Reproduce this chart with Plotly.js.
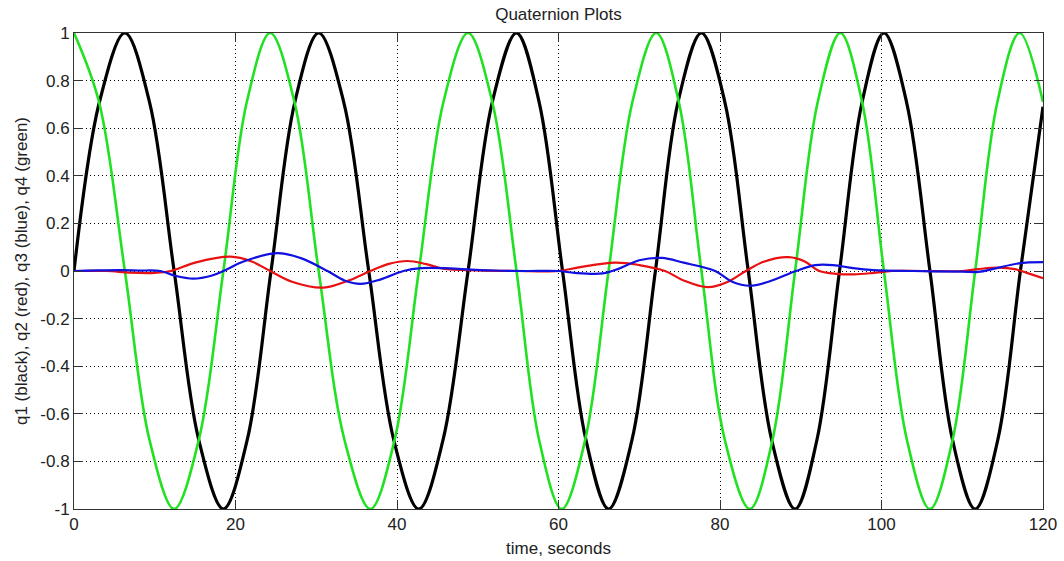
<!DOCTYPE html>
<html>
<head>
<meta charset="utf-8">
<script src="https://cdn.plot.ly/plotly-3.0.1.min.js"></script>
<style>html,body{margin:0;padding:0;background:#fff;}#chart{width:1064px;height:561px;}</style>
</head>
<body>
<div id="chart"></div>
<script>
// q1 (black)
const q1Time = [0, 3.15, 6.3, 9.35, 12.4, 15.45, 18.5, 21.45, 24.4, 27.35, 30.3, 33.4, 36.5, 39.6, 42.7, 45.7, 48.8, 51.8, 54.8, 57.6, 60.5, 63.4, 66.2, 69.1, 72.0, 74.8, 77.7, 80.6, 83.5, 86.4, 89.3, 92.0, 94.8, 97.6, 100.3, 103.1, 106.0, 108.8, 111.6, 114.4, 117.2, 120];
const q1Vals = [0, 0.71, 1, 0.71, 0, -0.71, -1, -0.71, 0, 0.71, 1, 0.71, 0, -0.71, -1, -0.71, 0, 0.71, 1, 0.71, 0, -0.71, -1, -0.71, 0, 0.71, 1, 0.71, 0, -0.71, -1, -0.71, 0, 0.71, 1, 0.71, 0, -0.71, -1, -0.71, 0, 0.69];

// q4 (green)
const q4Time = [0, 3.1, 6.3, 9.35, 12.4, 15.45, 18.5, 21.4, 24.3, 27.3, 30.3, 33.5, 36.7, 39.7, 42.7, 45.75, 48.8, 51.8, 54.8, 57.6, 60.4, 63.3, 66.2, 69.15, 72.1, 74.9, 77.7, 80.6, 83.7, 86.5, 89.3, 92.1, 94.9, 97.6, 100.3, 103.15, 106.0, 108.8, 111.6, 114.35, 117.1, 120];
const q4Vals = [1, 0.71, 0, -0.71, -1, -0.71, 0, 0.71, 1, 0.71, 0, -0.71, -1, -0.71, 0, 0.71, 1, 0.71, 0, -0.71, -1, -0.71, 0, 0.71, 1, 0.71, 0, -0.71, -1, -0.71, 0, 0.71, 1, 0.71, 0, -0.71, -1, -0.71, 0, 0.71, 1, 0.71];

// q2 (red)
const q2Time = [0, 4, 7, 10, 12, 15, 19.4, 22, 24.3, 27, 30.9, 34, 36.7, 39, 41.3, 43.5, 45.7, 50, 55, 60, 62.5, 67, 70, 73.2, 75.5, 78.5, 81, 83.2, 85.5, 88.5, 90.5, 92.3, 94.5, 96.6, 99, 101.3, 105, 110, 112, 114.5, 116.5, 118, 120];
const q2Vals = [0, 0, -0.007, -0.008, 0, 0.035, 0.06, 0.04, 0, -0.045, -0.07, -0.04, 0, 0.03, 0.042, 0.03, 0.01, 0.003, 0, 0, 0.015, 0.035, 0.025, 0, -0.04, -0.068, -0.045, 0, 0.04, 0.058, 0.04, 0, -0.012, -0.014, -0.008, 0, 0, 0, 0.008, 0.014, 0.008, -0.008, -0.03];

// q3 (blue)
const q3Time = [0, 3, 6, 8, 10.7, 12.5, 14.8, 17, 18.5, 21, 25.2, 28, 31.4, 33.5, 35.5, 38, 40.8, 43, 46, 48, 52, 56, 60, 62, 65.5, 67.5, 70, 72.8, 75.5, 79.4, 81.5, 83.7, 86, 89.4, 91.8, 94, 96.5, 99, 104, 110, 112, 114, 117, 120];
const q3Vals = [0, 0.003, 0.004, 0.002, 0, -0.02, -0.032, -0.02, 0, 0.04, 0.075, 0.055, 0, -0.04, -0.054, -0.035, 0, 0.012, 0.012, 0.008, 0.002, 0, 0, -0.008, -0.01, 0.01, 0.045, 0.055, 0.035, 0, -0.045, -0.062, -0.045, 0, 0.025, 0.025, 0.012, 0.004, 0, -0.003, -0.004, 0.01, 0.032, 0.037];

const xTicks = [0, 20, 40, 60, 80, 100, 120];
const yTicks = [-1, -0.8, -0.6, -0.4, -0.2, 0, 0.2, 0.4, 0.6, 0.8, 1];
const yTickText = ['-1', '-0.8', '-0.6', '-0.4', '-0.2', '0', '0.2', '0.4', '0.6', '0.8', '1'];

const FONT = 'Liberation Sans, Arial, sans-serif';
const TXT = '#222222';

function tr(x, y, color, width) {
  return {x: x, y: y, type: 'scatter', mode: 'lines',
    line: {color: color, width: width, shape: 'spline', smoothing: 1},
    hoverinfo: 'skip', showlegend: false};
}

const data = [
  tr(q1Time, q1Vals, '#000000', 3.2),
  tr(q4Time, q4Vals, '#22e022', 2.6),
  tr(q2Time, q2Vals, '#e81010', 2.2),
  tr(q3Time, q3Vals, '#1010e0', 2.2)
];

const axisCommon = {
  showline: true, linecolor: '#333333', linewidth: 1, mirror: 'ticks',
  ticks: 'inside', ticklen: 9, tickwidth: 1, tickcolor: '#333333',
  showgrid: true, gridcolor: '#000000', gridwidth: 1, griddash: '1px,3px',
  zeroline: false, tickfont: {family: FONT, size: 17, color: TXT},
  fixedrange: true
};

const layout = {
  width: 1064, height: 561,
  paper_bgcolor: '#ffffff', plot_bgcolor: '#ffffff',
  margin: {l: 73.5, r: 21, t: 33, b: 52, autoexpand: false},
  title: {text: 'Quaternion Plots', font: {family: FONT, size: 17, color: TXT},
    x: 0.5, xref: 'paper', y: 0.975, yref: 'container', xanchor: 'center', yanchor: 'middle'},
  xaxis: Object.assign({}, axisCommon, {
    range: [0, 120], tickvals: xTicks, ticktext: xTicks.map(String),
    title: {text: 'time, seconds', font: {family: FONT, size: 17, color: TXT}, standoff: 8},
    automargin: false
  }),
  yaxis: Object.assign({}, axisCommon, {
    range: [-1, 1], tickvals: yTicks, ticktext: yTickText,
    title: {text: 'q1 (black), q2 (red), q3 (blue), q4 (green)', font: {family: FONT, size: 17, color: TXT}, standoff: 8},
    automargin: false
  })
};

Plotly.newPlot('chart', data, layout, {displayModeBar: false, staticPlot: true});
</script>
</body>
</html>
